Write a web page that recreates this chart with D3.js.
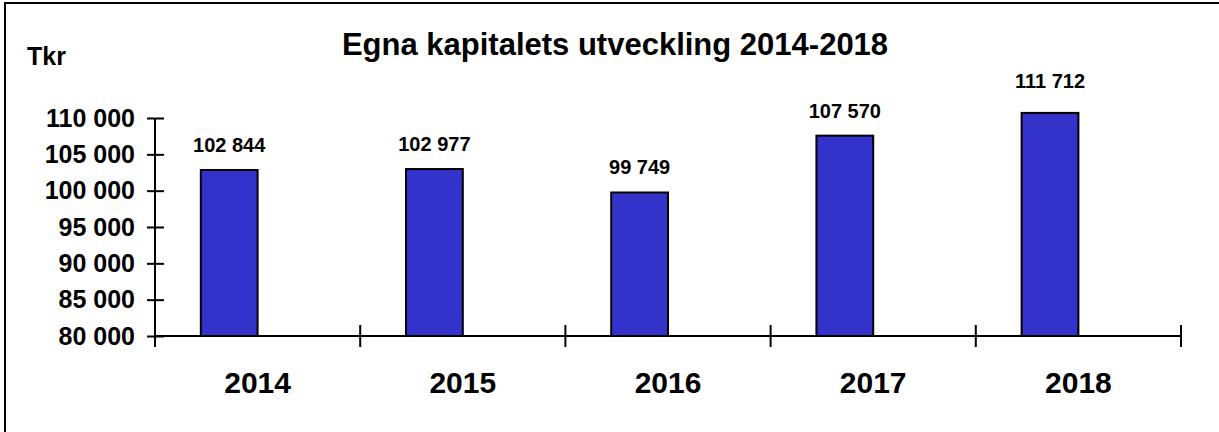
<!DOCTYPE html>
<html>
<head>
<meta charset="utf-8">
<script src="https://cdn.jsdelivr.net/npm/d3@7"></script>
<style>
  html, body { margin: 0; padding: 0; background: #fff; }
  svg { display: block; font-family: "Liberation Sans", Arial, sans-serif; }
</style>
</head>
<body>
<svg id="chart" width="1219" height="432"></svg>
<script>
const categories = ["2014", "2015", "2016", "2017", "2018"];
const values = [102844, 102977, 99749, 107570, 111712];
const valueLabels = ["102 844", "102 977", "99 749", "107 570", "111 712"];
const yTicks = [80000, 85000, 90000, 95000, 100000, 105000, 110000];
const yTickLabels = ["80 000", "85 000", "90 000", "95 000", "100 000", "105 000", "110 000"];
const titleText = "Egna kapitalets utveckling 2014-2018";
const unitText = "Tkr";
const plotCap = 110700;

(function () {
const svg = d3.select("#chart");
const W = 1219, H = 432;
const mLeft = 155, mRight = 1181, mTop = 118, mBottom = 336;

svg.append("rect").attr("width", W).attr("height", H).attr("fill", "#fff");
svg.append("rect").attr("x", 5).attr("y", 3).attr("width", W + 20).attr("height", H + 20)
  .attr("fill", "none").attr("stroke", "#000").attr("stroke-width", 2);

const x = d3.scaleBand().domain(categories).range([mLeft, mRight]).padding(0);
const xInner = d3.scaleBand().domain(["v", "_"]).range([0, x.bandwidth()]).paddingInner(0).paddingOuter(0.807);
const y = d3.scaleLinear().domain([80000, 110000]).range([mBottom, mTop]);

svg.append("g").selectAll("rect").data(values).join("rect")
  .attr("x", (d, i) => x(categories[i]) + xInner("v"))
  .attr("width", xInner.bandwidth())
  .attr("y", d => y(Math.min(d, plotCap)))
  .attr("height", d => y(80000) - y(Math.min(d, plotCap)))
  .attr("fill", "#3333CC")
  .attr("stroke", "#000")
  .attr("stroke-width", 2);

svg.append("g").selectAll("text").data(values).join("text")
  .attr("x", (d, i) => x(categories[i]) + xInner("v") + xInner.bandwidth() / 2)
  .attr("y", d => y(d) - 18)
  .attr("text-anchor", "middle")
  .attr("font-size", 20).attr("font-weight", "bold").attr("fill", "#000")
  .text((d, i) => valueLabels[i]);

const yAxis = d3.axisLeft(y).tickValues(yTicks).tickSize(0)
  .tickFormat((d, i) => yTickLabels[i]).tickPadding(20);
const gy = svg.append("g").attr("transform", `translate(${mLeft},0)`).call(yAxis);
gy.select(".domain").remove();
gy.selectAll("text").attr("font-size", 25).attr("font-weight", "bold").attr("fill", "#000")
  .attr("font-family", "Liberation Sans, Arial, sans-serif");
gy.selectAll(".tick").append("line").attr("x1", -8).attr("x2", 9)
  .attr("stroke", "#000").attr("stroke-width", 2);
svg.append("line").attr("x1", mLeft).attr("x2", mLeft).attr("y1", y(110000)).attr("y2", mBottom + 11)
  .attr("stroke", "#000").attr("stroke-width", 2);

svg.append("line").attr("x1", mLeft).attr("x2", mRight).attr("y1", mBottom).attr("y2", mBottom)
  .attr("stroke", "#000").attr("stroke-width", 2);
const bounds = categories.map(c => x(c)).concat([x(categories[categories.length - 1]) + x.bandwidth()]);
svg.append("g").selectAll("line").data(bounds.slice(1)).join("line")
  .attr("x1", d => d).attr("x2", d => d).attr("y1", mBottom - 11).attr("y2", mBottom + 11)
  .attr("stroke", "#000").attr("stroke-width", 2);
svg.append("g").selectAll("text").data(categories).join("text")
  .attr("x", d => x(d) + x.bandwidth() / 2)
  .attr("y", 393)
  .attr("text-anchor", "middle")
  .attr("font-size", 30).attr("font-weight", "bold").attr("fill", "#000")
  .text(d => d);

svg.append("text").attr("x", 615).attr("y", 55).attr("text-anchor", "middle")
  .attr("font-size", 31).attr("font-weight", "bold").attr("fill", "#000").text(titleText);
svg.append("text").attr("x", 27).attr("y", 65)
  .attr("font-size", 25).attr("font-weight", "bold").attr("fill", "#000").text(unitText);
})();
</script>
</body>
</html>
